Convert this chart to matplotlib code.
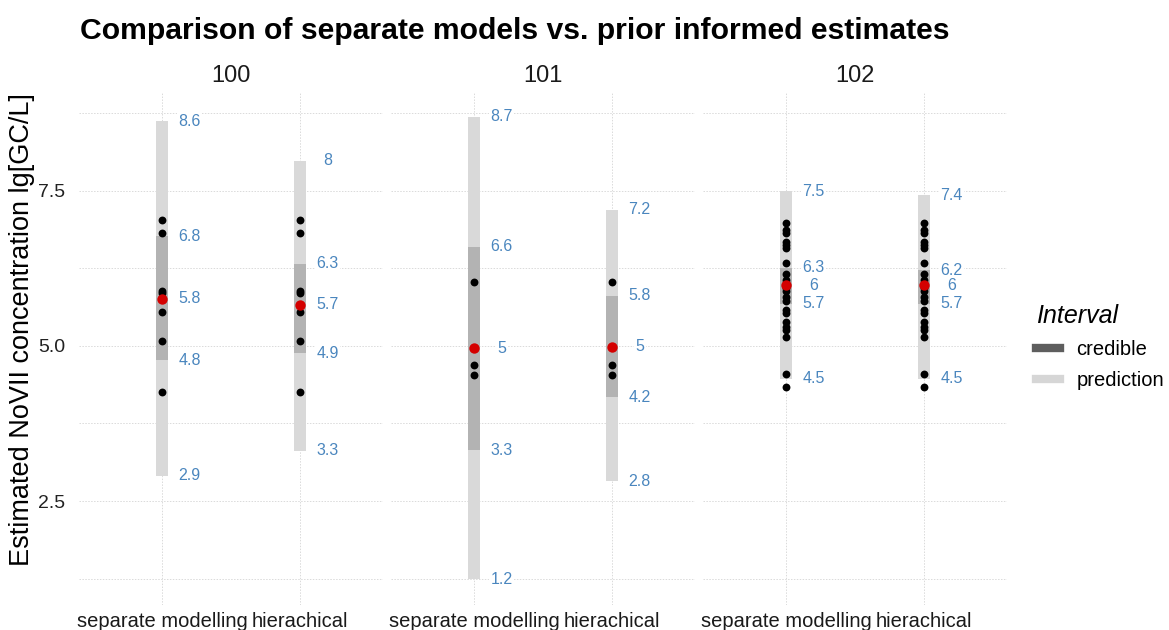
import matplotlib
matplotlib.use("Agg")
import matplotlib.pyplot as plt
from matplotlib.lines import Line2D

plt.rcParams['font.family'] = ['Liberation Sans', 'DejaVu Sans']

sites = ["100", "101", "102"]
models = ["separate modelling", "hierachical"]

# interval limits per site (lg GC/L)
sep_pred_lo = [2.91, 1.24, 4.47]
sep_pred_hi = [8.62, 8.69, 7.49]
sep_cred_lo = [4.77, 3.32, 5.68]
sep_cred_hi = [6.77, 6.60, 6.26]
sep_mean = [5.76, 4.96, 5.98]

hier_pred_lo = [3.31, 2.82, 4.47]
hier_pred_hi = [7.98, 7.19, 7.43]
hier_cred_lo = [4.88, 4.17, 5.68]
hier_cred_hi = [6.32, 5.81, 6.22]
hier_mean = [5.66, 4.99, 5.98]

# observed concentrations per site
obs_100 = [7.03, 6.82, 5.88, 5.85, 5.54, 5.08, 4.25]
obs_101 = [6.03, 4.70, 4.53]
obs_102 = [6.98, 6.87, 6.82, 6.68, 6.63, 6.58, 6.34, 6.16, 6.06, 5.93,
           5.88, 5.79, 5.73, 5.58, 5.53, 5.39, 5.31, 5.25, 5.15, 4.54, 4.33]
observed = [obs_100, obs_101, obs_102]

PRED_COL = "#d9d9d9"
CRED_COL = "#b3b3b3"
LAB_COL = "#4a86be"
GRID_COL = "#dadada"


def fmt(v):
    s = f"{round(v, 1):.1f}"
    return s[:-2] if s.endswith(".0") else s


fig = plt.figure(figsize=(11.69, 6.3), dpi=100)
W, H = 1169, 630
lefts = [79.2, 391.2, 703.2]
pw = 303.6
top, bot = 93, 605

for i, site in enumerate(sites):
    ax = fig.add_axes([lefts[i] / W, 1 - bot / H, pw / W, (bot - top) / H])
    ax.set_xlim(0.4, 2.6)
    ax.set_ylim(0.825, 9.075)
    for s in ax.spines.values():
        s.set_visible(False)
    ax.set_xticks([1, 2])
    ax.set_xticklabels(models, fontsize=14.5, color="#1a1a1a")
    ax.set_yticks([2.5, 5.0, 7.5])
    ax.set_yticks([1.25, 3.75, 6.25, 8.75], minor=True)
    ax.tick_params(length=0, which="both")
    ax.tick_params(axis="x", pad=5)
    ax.tick_params(axis="y", pad=10, labelsize=14, labelcolor="#222222")
    if i == 0:
        ax.set_yticklabels(["2.5", "5.0", "7.5"])
    else:
        ax.set_yticklabels([])
    ax.grid(True, which="both", color=GRID_COL, linestyle=(0, (1.5, 1.5)), linewidth=0.7)
    ax.set_axisbelow(True)

    rows = [
        (1, sep_pred_lo[i], sep_pred_hi[i], sep_cred_lo[i], sep_cred_hi[i], sep_mean[i]),
        (2, hier_pred_lo[i], hier_pred_hi[i], hier_cred_lo[i], hier_cred_hi[i], hier_mean[i]),
    ]
    for x, plo, phi, clo, chi, m in rows:
        ax.bar(x, phi - plo, bottom=plo, width=0.08, color=PRED_COL, zorder=2)
        ax.bar(x, chi - clo, bottom=clo, width=0.08, color=CRED_COL, zorder=3)
        ax.scatter([x] * len(observed[i]), observed[i], s=32, color="black",
                   zorder=4, linewidths=0)
        ax.scatter([x], [m], s=56, color="#d40000", zorder=5, linewidths=0)
        for v in (plo, phi, clo, chi, m):
            ax.text(x + 0.2, v, fmt(v), color=LAB_COL, fontsize=11.5,
                    ha="center", va="center", zorder=6,
                    bbox=dict(facecolor="white", edgecolor="none", pad=1.2))

    fig.text((lefts[i] + pw / 2) / W, 1 - 76 / H, site, fontsize=17,
             ha="center", va="center", color="#1a1a1a")

fig.text(80 / W, 1 - 31 / H, "Comparison of separate models vs. prior informed estimates",
         fontsize=21.7, fontweight="bold", ha="left", va="center")
fig.text(22 / W, 1 - 330 / H, "Estimated NoVII concentration lg[GC/L]",
         fontsize=19.5, rotation=90, ha="center", va="center")

handles = [Line2D([], [], color="#5e5e5e", linewidth=6),
           Line2D([], [], color="#d6d6d6", linewidth=6)]
leg = fig.legend(handles, ["credible", "prediction"], loc="upper left",
                 bbox_to_anchor=(1018 / W, 1 - 286 / H), frameon=False,
                 fontsize=14.5, title="Interval", handlelength=1.2,
                 handletextpad=0.8, labelspacing=0.6, alignment="left")
leg.get_title().set_fontsize(18)
leg.get_title().set_fontstyle("italic")

fig.savefig("out.png", dpi=100)
